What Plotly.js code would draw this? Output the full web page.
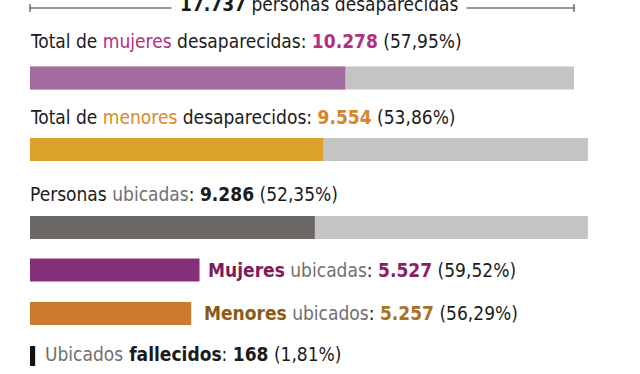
<!DOCTYPE html>
<html>
<head>
<meta charset="utf-8">
<script src="https://cdn.plot.ly/plotly-3.0.1.min.js"></script>
<style>
  html, body { margin: 0; padding: 0; background: #fff; }
  #chart { width: 640px; height: 374px; }
</style>
</head>
<body>
<div id="chart"></div>
<script>
// ---------- DATA ----------
const totalDesaparecidas = 17737;
const categorias = [
  ["Total de ", "mujeres", " desaparecidas"],
  ["Total de ", "menores", " desaparecidos"],
  ["Personas ", "ubicadas", ""],
  ["Mujeres", " ubicadas", ""],
  ["Menores", " ubicados", ""],
  ["Ubicados", " fallecidos", ""]
];
const valores = [10278, 9554, 9286, 5527, 5257, 168];
const porcentajes = ["57,95%", "53,86%", "52,35%", "59,52%", "56,29%", "1,81%"];
// grey background tracks (as drawn) for the first three rows
const pistas = [17737, 18190, 18190];

// ---------- LAYOUT / STYLE ----------
const FONT = "'DejaVu Sans Condensed', 'Liberation Sans Narrow', sans-serif";
const FS = 19;
const pxPerUnit = 0.03067;
const x0px = 30;
const filaY = [78, 149.5, 227.5, 270, 313.5, 356];
const grosor = [23, 23, 23, 23, 23, 20];
const textoY = [41, 117, 194, 269.5, 313, 354];
const textoShift = [-2, -2, -2, 6, 11, 8];
const colBar = ["#a56b9f", "#daa22a", "#6b6764", "#833079", "#cd7a2c", "#111111"];
const colPista = "#c4c4c4";
const dark = "#1b1b1b", grey = "#707070";

function fmt(n) { return String(n).replace(/\B(?=(\d{3})+(?!\d))/g, "."); }
function sp(t, c, b) { const s = `<span style="color:${c}">${t}</span>`; return b ? `<b>${s}</b>` : s; }

const estilos = [
  [[dark,0],["#b1307f",0],[dark,0],["#b1307f",1]],
  [[dark,0],["#d98a2c",0],[dark,0],["#d4862a",1]],
  [[dark,0],[grey,0],[dark,0],[dark,1]],
  [["#801a5e",1],[grey,0],[dark,0],["#8a1f63",1]],
  [["#8a5a14",1],[grey,0],[dark,0],["#a8741f",1]],
  [[grey,0],[dark,1],[dark,0],[dark,1]]
];

function etiqueta(i) {
  const p = categorias[i], e = estilos[i];
  return sp(p[0], e[0][0], e[0][1]) + sp(p[1], e[1][0], e[1][1]) + sp(p[2] + ": ", e[2][0], e[2][1]) +
    sp(fmt(valores[i]), e[3][0], e[3][1]) + sp(" (" + porcentajes[i] + ")", dark, 0);
}

const traces = [
  {
    type: "bar", orientation: "h",
    x: pistas, y: filaY.slice(0, pistas.length), width: grosor.slice(0, pistas.length),
    marker: { color: colPista }, hoverinfo: "skip", base: 0
  },
  {
    type: "bar", orientation: "h",
    x: valores, y: filaY, width: grosor,
    marker: { color: colBar }, hoverinfo: "skip", base: 0
  }
];

const annotations = valores.map((v, i) => ({
  x: i >= 3 ? v : 0, y: textoY[i], xref: "x", yref: "y", xanchor: "left", yanchor: "middle",
  xshift: textoShift[i], showarrow: false, text: etiqueta(i),
  font: { family: FONT, size: FS, color: dark }
}));
annotations.push({
  x: (319 - x0px) / pxPerUnit, y: 4, xref: "x", yref: "y", xanchor: "center", yanchor: "middle",
  showarrow: false, bgcolor: "#ffffff", borderpad: 8,
  text: `<b>${fmt(totalDesaparecidas)}</b> personas desaparecidas`,
  font: { family: FONT, size: FS, color: dark }
});

const shapes = [
  { type: "line", xref: "x", yref: "y", x0: 0, x1: totalDesaparecidas, y0: 8, y1: 8, line: { color: "#333", width: 1 } },
  { type: "line", xref: "x", yref: "y", x0: 0, x1: 0, y0: 4, y1: 12, line: { color: "#333", width: 1 } },
  { type: "line", xref: "x", yref: "y", x0: totalDesaparecidas, x1: totalDesaparecidas, y0: 4, y1: 12, line: { color: "#333", width: 1 } }
];

const layout = {
  width: 640, height: 374,
  margin: { l: 0, r: 0, t: 0, b: 0 },
  paper_bgcolor: "#fff", plot_bgcolor: "#fff",
  showlegend: false, barmode: "overlay",
  xaxis: { range: [-x0px / pxPerUnit, (640 - x0px) / pxPerUnit], visible: false, fixedrange: true },
  yaxis: { range: [374, 0], visible: false, fixedrange: true },
  annotations: annotations, shapes: shapes
};

Plotly.newPlot("chart", traces, layout, { staticPlot: true, displayModeBar: false });
</script>
</body>
</html>
